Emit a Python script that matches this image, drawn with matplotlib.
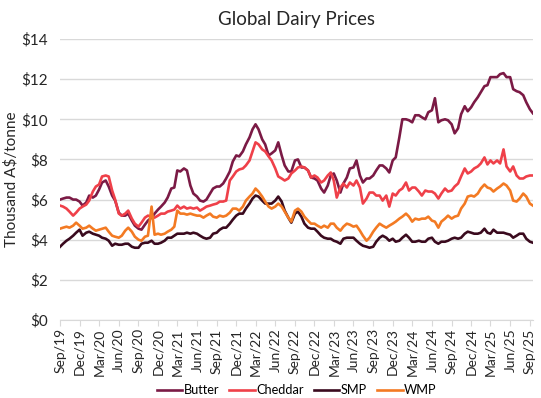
import numpy as np
import pandas as pd
import matplotlib
matplotlib.use("Agg")
import matplotlib.pyplot as plt
import matplotlib.dates as mdates

# semi-monthly prices, thousand A$/tonne, Sep 2019 - Sep 2025
butter = [6.0, 6.05, 6.1, 6.1, 6.0, 6.0, 5.9, 5.7, 5.85, 6.2, 6.1, 6.2, 6.5, 6.85, 6.95, 6.65, 6.2, 5.95,
          5.35, 5.2, 5.2, 5.3, 4.95, 4.7, 4.55, 4.5, 4.75, 4.95, 5.1, 5.3, 5.5, 5.65, 5.85, 6.1, 6.55, 6.6,
          7.45, 7.4, 7.55, 7.45, 6.7, 6.3, 6.15, 5.95, 5.9, 6.0, 6.3, 6.55, 6.65, 6.65, 6.8, 7.05, 7.4, 7.9,
          8.2, 8.15, 8.4, 8.75, 9.1, 9.5, 9.75, 9.5, 9.0, 8.75, 8.2, 8.3, 8.45, 8.85, 8.2, 7.7, 7.4, 7.4,
          7.95, 8.0, 7.6, 7.6, 7.45, 7.1, 7.05, 6.95, 6.55, 6.35, 6.7, 7.2, 7.3, 6.95, 6.35, 6.8, 7.1, 7.55,
          7.6, 7.95, 7.2, 6.85, 7.05, 7.05, 7.2, 7.45, 7.7, 7.7, 7.55, 7.35, 7.95, 8.1, 9.1, 10.0, 10.0, 9.95,
          9.85, 10.2,
          10.2, 10.1, 10.0, 10.35, 10.45, 11.05, 9.85, 9.95, 10.0, 9.95, 9.75, 9.3, 9.55, 10.25, 10.65, 10.4,
          10.6, 10.85, 11.1, 11.35, 11.65, 11.7, 12.1, 12.1, 12.1, 12.25, 12.3, 12.1, 12.1, 11.5, 11.4, 11.35,
          11.2, 10.85, 10.5, 10.3]
cheddar = [5.7, 5.65, 5.55, 5.4, 5.2, 5.35, 5.55, 5.65, 5.75, 5.95, 6.4, 6.65, 6.75, 7.15, 7.2, 7.15, 6.45, 6.0,
           5.3, 5.2, 5.3, 5.45, 5.05, 4.8, 4.65, 4.85, 5.1, 5.2, 5.15, 5.1, 5.2, 5.3, 5.3, 5.4, 5.45, 5.5,
           5.7, 5.55, 5.65, 5.55, 5.6, 5.55, 5.6, 5.45, 5.55, 5.65, 5.7, 5.75, 5.8, 5.9, 5.9, 5.95, 6.95, 7.15,
           7.4, 7.5, 7.55, 7.7, 7.95, 8.4, 8.85, 8.75, 8.5, 8.4, 8.15, 7.95, 7.55, 7.15, 7.05, 6.95, 7.05, 7.3,
           7.45, 7.6, 7.65, 7.6, 7.45, 7.1, 7.2, 7.1, 6.85, 6.95, 7.2, 7.35, 6.95, 6.1, 6.6, 6.8, 6.6, 6.85,
           6.7, 6.95, 6.6, 5.8, 6.05, 6.35, 6.35, 6.2, 6.2, 5.95, 6.2, 5.65, 6.3, 6.2, 6.45, 6.55, 6.85, 6.45,
           6.6, 6.6,
           6.4, 6.2, 6.45, 6.4, 6.4, 6.3, 6.05, 6.3, 6.55, 6.4, 6.45, 6.65, 6.8, 7.15, 7.55, 7.3,
           7.4, 7.55, 7.65, 7.8, 8.1, 7.75, 7.95, 7.8, 7.95, 7.8, 8.5, 7.65, 7.4, 7.65, 7.2, 7.05,
           7.05, 7.15, 7.2, 7.2]
smp = [3.65, 3.8, 3.95, 4.05, 4.2, 4.35, 4.5, 4.2, 4.35, 4.4, 4.3, 4.25, 4.2, 4.1, 4.05, 3.95, 3.7, 3.8,
       3.75, 3.75, 3.8, 3.8, 3.65, 3.6, 3.6, 3.8, 3.85, 3.85, 3.95, 3.8, 3.8, 3.85, 3.95, 4.1, 4.1, 4.2,
       4.3, 4.3, 4.3, 4.35, 4.3, 4.35, 4.3, 4.2, 4.1, 4.05, 4.1, 4.3, 4.35, 4.5, 4.6, 4.6, 4.8, 5.0,
       5.2, 5.3, 5.3, 5.55, 5.8, 6.05, 6.2, 6.15, 5.95, 5.8, 5.8, 5.8, 5.95, 6.15, 5.9, 5.45, 5.1, 4.85,
       5.3, 5.4, 5.15, 4.8, 4.6, 4.55, 4.55, 4.4, 4.2, 4.1, 4.05, 4.05, 3.95, 3.9, 3.8, 4.05, 4.1, 4.1,
       4.1, 3.95, 3.8, 3.7, 3.65, 3.6, 3.65, 3.9, 4.1, 4.2, 4.1, 3.95, 4.05, 3.9, 3.95, 4.1, 4.25, 4.1,
       3.9, 3.9,
       3.95, 3.9, 3.9, 4.05, 4.1, 3.9, 3.8, 3.9, 3.9, 3.95, 4.05, 4.1, 4.05, 4.1, 4.3, 4.4,
       4.35, 4.3, 4.3, 4.35, 4.55, 4.35, 4.3, 4.5, 4.35, 4.35, 4.35, 4.3, 4.25, 4.1, 4.2, 4.3,
       4.3, 4.05, 3.9, 3.85]
wmp = [4.55, 4.6, 4.65, 4.6, 4.7, 4.85, 4.7, 4.55, 4.6, 4.7, 4.55, 4.45, 4.5, 4.55, 4.6, 4.4, 4.2, 4.15,
       4.1, 4.2, 4.45, 4.6, 4.4, 4.15, 4.0, 3.95, 4.15, 4.2, 5.65, 4.25, 4.3, 4.25, 4.3, 4.4, 4.5, 4.65,
       5.45, 5.3, 5.3, 5.25, 5.3, 5.25, 5.2, 5.2, 5.1, 5.2, 5.3, 5.15, 5.1, 5.2, 5.15, 5.2, 5.35, 5.55,
       5.55, 5.45, 5.65, 5.95, 6.15, 6.3, 6.55, 6.4, 6.15, 5.9, 5.65, 5.55, 5.65, 5.8, 5.65, 5.4, 5.1, 4.9,
       5.45, 5.55, 5.4, 5.15, 4.95, 4.8, 4.8, 4.7, 4.6, 4.7, 4.6, 4.8, 4.8, 4.6, 4.45, 4.65, 4.8, 4.75,
       4.65, 4.7, 4.45, 4.2, 3.95, 4.1, 4.4, 4.6, 4.8, 4.7, 4.6, 4.7, 4.8, 4.9, 5.05, 5.15, 5.3, 5.15,
       4.9, 5.05,
       5.0, 5.05, 5.05, 5.15, 4.95, 4.9, 4.6, 4.9, 5.05, 5.2, 5.05, 5.15, 5.2, 5.55, 5.8, 6.15,
       6.2, 6.15, 6.3, 6.55, 6.75, 6.6, 6.55, 6.4, 6.55, 6.65, 6.8, 6.7, 6.45, 5.95, 5.9, 6.05,
       6.3, 6.15, 5.8, 5.7]

series_names = ["Butter", "Cheddar", "SMP", "WMP"]
colors = ["#7B1A45", "#EF4049", "#3A0A1E", "#F37A23"]

dates = pd.date_range("2019-09-01", periods=len(butter), freq="SMS")

plt.rcParams['font.family'] = ['Lato', 'DejaVu Sans']
fig = plt.figure(figsize=(5.41, 3.98), dpi=100)
ax = fig.add_axes([0.111, 0.196, 0.874, 0.706])

for name, vals, c in zip(series_names, [butter, cheddar, smp, wmp], colors):
    ax.plot(dates, vals, color=c, linewidth=1.9, label=name, solid_joinstyle='round')

ax.set_ylim(0, 14)
ax.set_yticks(np.arange(0, 15, 2))
ax.set_yticklabels(["$%d" % v for v in np.arange(0, 15, 2)])
ax.set_xlim(dates[0], dates[-1])
ax.xaxis.set_major_locator(mdates.MonthLocator(bymonth=[3, 6, 9, 12]))
ax.xaxis.set_major_formatter(mdates.DateFormatter("%b/%y"))
plt.setp(ax.get_xticklabels(), rotation=90)

ax.grid(axis='y', color="#D9D9D9", linewidth=1)
ax.set_axisbelow(True)
for s in ["top", "right", "left"]:
    ax.spines[s].set_visible(False)
ax.spines["bottom"].set_color("#D9D9D9")
ax.tick_params(axis='y', length=0, labelsize=11, colors="#262626", pad=9)
ax.tick_params(axis='x', length=4, color="#D9D9D9", labelsize=10, labelcolor="#262626", pad=2)

ax.set_ylabel("Thousand A$/tonne", fontsize=11, color="#262626", labelpad=2)
ax.set_title("Global Dairy Prices", fontsize=13.5, color="#262626", pad=10)

ax.legend(loc="center", bbox_to_anchor=(0.5, -0.25), ncol=4, frameon=False,
          fontsize=9.2, handlelength=2.0, handletextpad=0.1, columnspacing=0.8)

plt.savefig("out.png", dpi=100)
plt.close()
print("graph done")
